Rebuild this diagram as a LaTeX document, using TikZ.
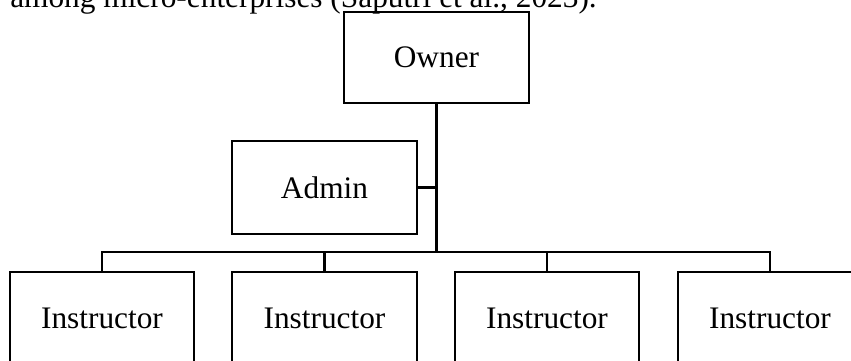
\documentclass[tikz,border=0pt]{standalone}
\usepackage{fontspec}
\setmainfont{Liberation Serif}
\begin{document}
\begin{tikzpicture}[x=0.75pt,y=-0.75pt,
  orgbox/.style={draw=black,line width=1.6pt,rectangle,inner sep=0pt,
    minimum width=138.5pt,minimum height=69.5pt,font=\fontsize{23.5}{28}\selectfont},
  link/.style={draw=black,line width=1.6pt},
  mainlink/.style={draw=black,line width=2.4pt}]
\useasboundingbox (0,0) rectangle (851,361);
\clip (0,0) rectangle (851,361);
\node[anchor=base west,inner sep=0pt,font=\fontsize{23.5}{28}\selectfont] (cite) at (10,7) {among micro-enterprises (Saputri et al., 2023).};
\node[orgbox,minimum height=68pt] (owner) at (436.5,57.5) {Owner};
\node[orgbox] (admin) at (324.5,187.5) {Admin};
\node[orgbox] (i1) at (102,318.5) {Instructor};
\node[orgbox] (i2) at (324.5,318.5) {Instructor};
\node[orgbox] (i3) at (547,318.5) {Instructor};
\node[orgbox] (i4) at (770,318.5) {Instructor};
\coordinate (bus) at (436.5,252);
\draw[link] (i1.north) |- (bus) -| (i4.north);
\draw[link] (i2.north) -- (i2.north |- bus);
\draw[link] (i3.north) -- (i3.north |- bus);
\draw[link] (admin.east) -- (admin.east -| owner.south);
\draw[mainlink] (owner.south) -- (bus);
\end{tikzpicture}
\end{document}
